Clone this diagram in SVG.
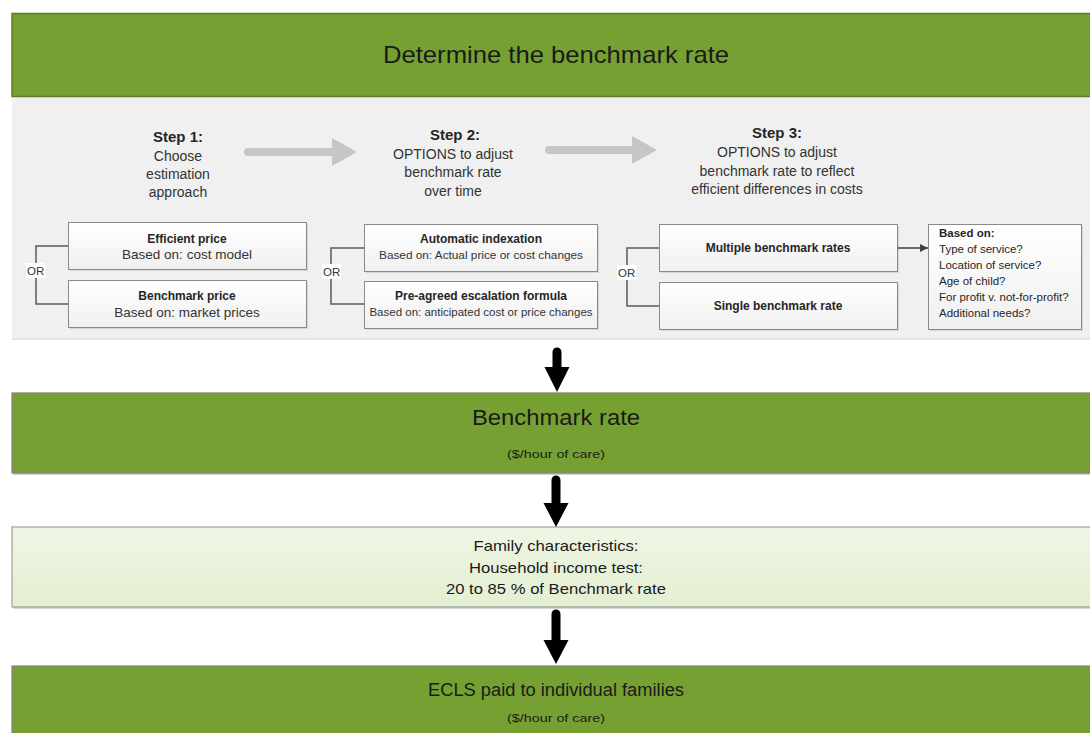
<svg xmlns="http://www.w3.org/2000/svg" width="1090" height="733" viewBox="0 0 1090 733">
<defs>
<linearGradient id="boxg" x1="0" y1="0" x2="0" y2="1">
<stop offset="0" stop-color="#ffffff"/>
<stop offset="1" stop-color="#f0f0f0"/>
</linearGradient>
<linearGradient id="famg" x1="0" y1="0" x2="0" y2="1">
<stop offset="0" stop-color="#eef6e4"/>
<stop offset="1" stop-color="#e3efd2"/>
</linearGradient>
<marker id="ah" viewBox="0 0 10 10" refX="10" refY="5" markerWidth="8" markerHeight="8" markerUnits="userSpaceOnUse" orient="auto">
<path d="M0,0 L10,5 L0,10 z" fill="#404040"/>
</marker>
</defs>
<style>
text{font-family:"Liberation Sans",Arial,sans-serif;fill:#262626}
.step{font-size:14px;fill:#333;text-anchor:middle}
.sb{font-size:15px;font-weight:bold;fill:#262626;text-anchor:middle}
.bb{font-size:12px;font-weight:bold;text-anchor:middle}
.br{text-anchor:middle;fill:#333}
.box{fill:url(#boxg);stroke:#8a8a8a;stroke-width:1}
.shadow{fill:#d6d6d6}
.green{fill:#76a132}
.or{font-size:11.5px;fill:#333}
.orbg{fill:#ffffff}
.brk{fill:none;stroke:#595959;stroke-width:1.5}
.garrow{fill:#c6c6c6}
.barrow{fill:#000}
.big{text-anchor:middle;fill:#1a1a1a}
</style>

<!-- header -->
<g id="header">
<rect x="12" y="97" width="1080" height="242" fill="#f0f0f0"/>
<rect x="12" y="338" width="1080" height="2" fill="#e4e4e4"/>
<rect x="12" y="13.5" width="1080" height="83" class="green" stroke="#5d7c2a" stroke-width="1.5"/>
<text x="556" y="63" class="big" font-size="24" textLength="346" lengthAdjust="spacingAndGlyphs">Determine the benchmark rate</text>
</g>

<!-- steps -->
<g id="step1">
<text x="178" y="142" class="sb">Step 1:</text>
<text x="178" y="161" class="step">Choose</text>
<text x="178" y="179" class="step">estimation</text>
<text x="178" y="197" class="step">approach</text>
</g>
<g id="step2">
<text x="455" y="140" class="sb">Step 2:</text>
<text x="453" y="159" class="step">OPTIONS to adjust</text>
<text x="453" y="177" class="step">benchmark rate</text>
<text x="453" y="196" class="step">over time</text>
</g>
<g id="step3">
<text x="777" y="138" class="sb">Step 3:</text>
<text x="777" y="157" class="step">OPTIONS to adjust</text>
<text x="777" y="176" class="step">benchmark rate to reflect</text>
<text x="777" y="194" class="step">efficient differences in costs</text>
</g>

<!-- step 1 boxes -->
<g id="efficient-price">
<rect x="70" y="224" width="238" height="47" class="shadow"/>
<rect x="68.5" y="222.5" width="238" height="47" class="box"/>
<text x="187" y="243" class="bb">Efficient price</text>
<text x="187" y="259" class="br" font-size="13.5">Based on: cost model</text>
</g>
<g id="benchmark-price">
<rect x="70" y="282" width="238" height="47" class="shadow"/>
<rect x="68.5" y="280.5" width="238" height="47" class="box"/>
<text x="187" y="300" class="bb">Benchmark price</text>
<text x="187" y="317" class="br" font-size="13.5">Based on: market prices</text>
</g>

<!-- step 2 boxes -->
<g id="automatic-indexation">
<rect x="366" y="226" width="233" height="47" class="shadow"/>
<rect x="364.5" y="224.5" width="233" height="47" class="box"/>
<text x="481" y="243" class="bb">Automatic indexation</text>
<text x="481" y="259" class="br" font-size="11.8">Based on: Actual price or cost changes</text>
</g>
<g id="pre-agreed-escalation">
<rect x="366" y="283" width="233" height="47" class="shadow"/>
<rect x="364.5" y="281.5" width="233" height="47" class="box"/>
<text x="481" y="300" class="bb">Pre-agreed escalation formula</text>
<text x="481" y="316" class="br" font-size="11.5">Based on: anticipated cost or price changes</text>
</g>

<!-- step 3 boxes -->
<g id="multiple-rates">
<rect x="661" y="226" width="238" height="47" class="shadow"/>
<rect x="659.5" y="224.5" width="238" height="47" class="box"/>
<text x="778" y="252" class="bb">Multiple benchmark rates</text>
</g>
<g id="single-rate">
<rect x="661" y="284" width="238" height="47" class="shadow"/>
<rect x="659.5" y="282.5" width="238" height="47" class="box"/>
<text x="778" y="310" class="bb">Single benchmark rate</text>
</g>
<g id="based-on">
<rect x="930" y="226" width="153" height="105" class="shadow"/>
<rect x="928.5" y="224.5" width="153" height="105" class="box"/>
<text x="939" y="237" font-size="11.5" font-weight="bold">Based on:</text>
<text x="939" y="253" font-size="11.5" fill="#333">Type of service?</text>
<text x="939" y="269" font-size="11.5" fill="#333">Location of service?</text>
<text x="939" y="285" font-size="11.5" fill="#333">Age of child?</text>
<text x="939" y="301" font-size="11.5" fill="#333">For profit v. not-for-profit?</text>
<text x="939" y="317" font-size="11.5" fill="#333">Additional needs?</text>
</g>

<!-- lower bars -->
<g id="benchmark-rate">
<rect x="13" y="395" width="1080" height="80" fill="#d0d0d0"/>
<rect x="12" y="393" width="1080" height="80" class="green" stroke="#808080" stroke-width="1.2"/>
<text x="556" y="425" class="big" font-size="22" textLength="168" lengthAdjust="spacingAndGlyphs">Benchmark rate</text>
<text x="556" y="458" class="big" font-size="11.5" textLength="98" lengthAdjust="spacingAndGlyphs">($/hour of care)</text>
</g>
<g id="family-characteristics">
<rect x="13" y="529" width="1080" height="80" fill="#d8d8d8"/>
<rect x="12" y="527" width="1080" height="80" fill="url(#famg)" stroke="#a0a0a0" stroke-width="1.2"/>
<text x="556" y="551" class="big" font-size="15" textLength="165" lengthAdjust="spacingAndGlyphs">Family characteristics:</text>
<text x="556" y="573" class="big" font-size="15" textLength="174" lengthAdjust="spacingAndGlyphs">Household income test:</text>
<text x="556" y="594" class="big" font-size="15" textLength="220" lengthAdjust="spacingAndGlyphs">20 to 85 % of Benchmark rate</text>
</g>
<g id="ecls-paid">
<rect x="12" y="666" width="1080" height="80" class="green" stroke="#808080" stroke-width="1.2"/>
<text x="556" y="696" class="big" font-size="17.5" textLength="256" lengthAdjust="spacingAndGlyphs">ECLS paid to individual families</text>
<text x="556" y="722" class="big" font-size="11.5" textLength="98" lengthAdjust="spacingAndGlyphs">($/hour of care)</text>
</g>

<!-- connectors -->
<g id="connectors">
<path class="garrow" d="M248,148 L332,148 L332,138 L357,152 L332,166 L332,156 L248,156 A4,4 0 0 1 248,148 z"/>
<path class="garrow" d="M549,146 L632,146 L632,136 L657,150 L632,164 L632,154 L549,154 A4,4 0 0 1 549,146 z"/>
<path class="brk" d="M68,246 H36 V304 H68"/>
<rect class="orbg" x="26" y="263" width="19" height="15"/>
<text class="or" x="27" y="275">OR</text>
<path class="brk" d="M364,248 H331 V304 H364"/>
<rect class="orbg" x="322" y="264" width="19" height="15"/>
<text class="or" x="323" y="276">OR</text>
<path class="brk" d="M659,248 H627 V306 H659"/>
<rect class="orbg" x="617" y="265" width="19" height="15"/>
<text class="or" x="618" y="277">OR</text>
<line x1="898" y1="248" x2="928" y2="248" stroke="#404040" stroke-width="1.5" marker-end="url(#ah)"/>
<path class="barrow" d="M552.5,352 A4.5,4.5 0 0 1 561.5,352 L561.5,367 L569.5,367 L557,392 L544.5,367 L552.5,367 z"/>
<path class="barrow" d="M551.5,480 A4.5,4.5 0 0 1 560.5,480 L560.5,503 L568.5,503 L556,527 L543.5,503 L551.5,503 z"/>
<path class="barrow" d="M551.5,614 A4.5,4.5 0 0 1 560.5,614 L560.5,640 L568.5,640 L556,664 L543.5,640 L551.5,640 z"/>
</g>
</svg>
